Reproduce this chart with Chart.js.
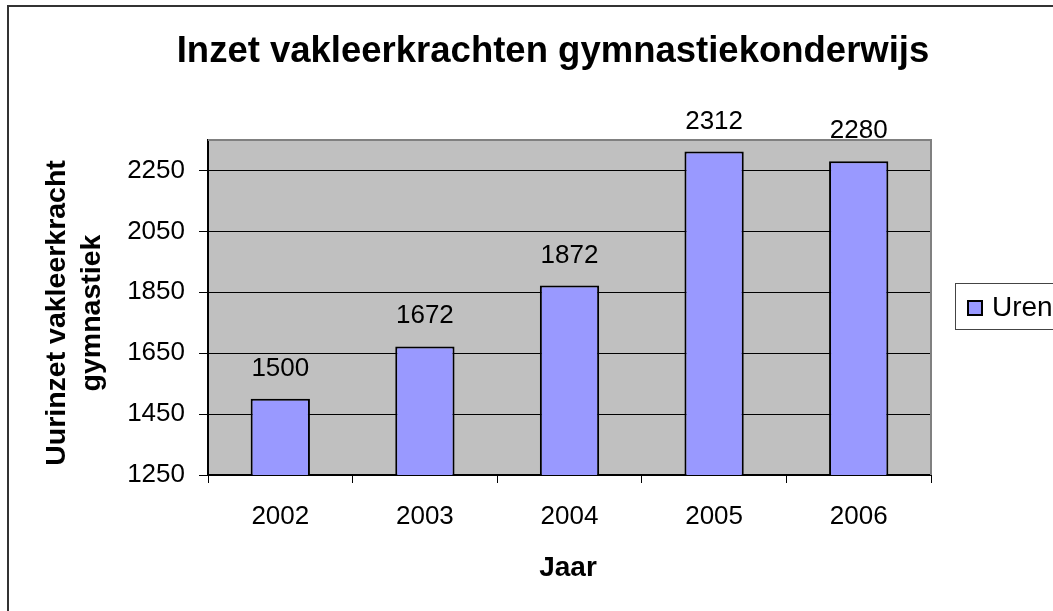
<!DOCTYPE html>
<html>
<head>
<meta charset="utf-8">
<script src="https://cdn.jsdelivr.net/npm/chart.js@4/dist/chart.umd.min.js"></script>
<style>
  html, body { margin: 0; padding: 0; background: #fff; }
  #wrap { width: 1053px; height: 611px; }
</style>
</head>
<body>
<div id="wrap"><canvas id="myChart1" width="1053" height="611"></canvas></div>
<script>
const years = ["2002", "2003", "2004", "2005", "2006"];
const uren = [1500, 1672, 1872, 2312, 2280];
const yTicks = [1250, 1450, 1650, 1850, 2050, 2250];
const chartTitle = "Inzet vakleerkrachten gymnastiekonderwijs";
const yTitle = ["Uurinzet vakleerkracht", "gymnastiek"];
const xTitle = "Jaar";
const seriesName = "Uren";

const FONT = "'Liberation Sans', Arial, sans-serif";

// gray plot area, outer frame, titles, value labels and legend
const excelLook = {
  id: "excelLook",
  beforeDraw(chart) {
    const { ctx, chartArea: a } = chart;
    ctx.save();
    ctx.fillStyle = "#fff";
    ctx.fillRect(0, 0, chart.width, chart.height);
    ctx.fillStyle = "#c0c0c0";
    ctx.fillRect(a.left, a.top, a.right - a.left, a.bottom - a.top);
    ctx.restore();
  },
  afterDraw(chart) {
    const { ctx, chartArea: a } = chart;
    ctx.save();
    // plot border top/right
    ctx.strokeStyle = "#808080";
    ctx.lineWidth = 2;
    ctx.beginPath();
    ctx.moveTo(a.left, a.top);
    ctx.lineTo(a.right, a.top);
    ctx.lineTo(a.right, a.bottom);
    ctx.stroke();

    // outer frame
    ctx.strokeStyle = "#333";
    ctx.lineWidth = 2;
    ctx.strokeRect(8, 6, 1100, 700);

    // title
    ctx.fillStyle = "#000";
    ctx.textAlign = "center";
    ctx.textBaseline = "middle";
    ctx.font = "bold 36.5px " + FONT;
    ctx.fillText(chartTitle, 553, 52);

    // x title
    ctx.font = "bold 28px " + FONT;
    ctx.fillText(xTitle, 568, 568);

    // y title
    ctx.textBaseline = "alphabetic";
    ctx.font = "bold 28.5px " + FONT;
    ctx.save();
    ctx.translate(0, 313);
    ctx.rotate(-Math.PI / 2);
    ctx.fillText(yTitle[0], 0, 65);
    ctx.fillText(yTitle[1], 0, 100);
    ctx.restore();

    // value labels
    ctx.font = "26px " + FONT;
    const meta = chart.getDatasetMeta(0);
    meta.data.forEach((bar, i) => {
      ctx.fillText(String(uren[i]), bar.x, bar.y - 23);
    });

    // legend
    ctx.fillStyle = "#fff";
    ctx.fillRect(955, 283, 120, 46);
    ctx.strokeStyle = "#444";
    ctx.lineWidth = 1;
    ctx.strokeRect(955.5, 283.5, 120, 46);
    ctx.fillStyle = "#9999ff";
    ctx.fillRect(968, 301, 14, 14);
    ctx.strokeStyle = "#000";
    ctx.lineWidth = 2;
    ctx.strokeRect(968, 301, 14, 14);
    ctx.fillStyle = "#000";
    ctx.textAlign = "left";
    ctx.font = "28px " + FONT;
    ctx.fillText(seriesName, 992, 316);
    ctx.restore();
  }
};

const ctx = document.getElementById("myChart1").getContext("2d");
const chart1 = new Chart(ctx, {
  type: "bar",
  data: {
    labels: years,
    datasets: [{
      label: seriesName,
      data: uren,
      backgroundColor: "#9999ff",
      borderColor: "#000",
      borderWidth: 2,
      barPercentage: 0.82,
      categoryPercentage: 0.5
    }]
  },
  options: {
    responsive: false,
    animation: false,
    devicePixelRatio: 1,
    layout: { padding: { left: 8, top: 140, right: 122, bottom: 0 } },
    plugins: {
      legend: { display: false },
      title: { display: false },
      tooltip: { enabled: false }
    },
    scales: {
      x: {
        grid: {
          offset: true,
          drawOnChartArea: false,
          drawTicks: true,
          tickLength: 8,
          color: "#000"
        },
        border: { color: "#000", width: 2 },
        ticks: {
          color: "#000",
          font: { family: FONT, size: 26 },
          padding: 18,
          maxRotation: 0
        },
        afterFit(scale) { scale.height = 136; }
      },
      y: {
        min: 1250,
        max: 2350,
        afterBuildTicks(axis) { axis.ticks = yTicks.map(v => ({ value: v })); },
        grid: { color: "#000", tickLength: 9, lineWidth: 1 },
        border: { color: "#000", width: 2 },
        ticks: {
          color: "#000",
          font: { family: FONT, size: 26 },
          padding: 14,
          callback: (v) => String(v)
        },
        afterFit(scale) { scale.width = 200; }
      }
    }
  },
  plugins: [excelLook]
});
</script>
</body>
</html>
